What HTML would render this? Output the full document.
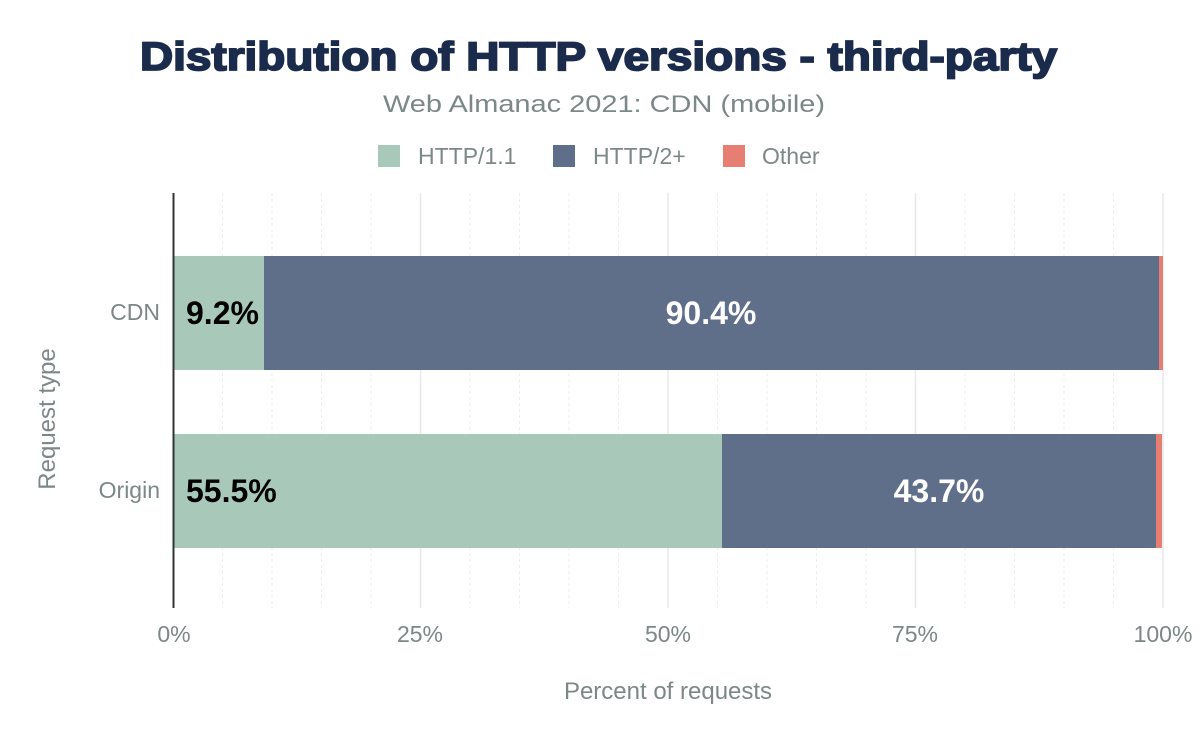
<!DOCTYPE html>
<html><head><meta charset="utf-8"><style>
body{margin:0;background:#fff;}
svg text{font-family:"Liberation Sans",Arial,sans-serif;}
</style></head><body>
<svg width="1200" height="742" viewBox="0 0 1200 742" xmlns="http://www.w3.org/2000/svg">
<rect width="1200" height="742" fill="#fff"/>
<text x="140" y="70" textLength="917" lengthAdjust="spacingAndGlyphs" font-size="40" font-weight="900" fill="#1a2b4b" stroke="#1a2b4b" stroke-width="1.8">Distribution of HTTP versions - third-party</text>
<text x="604" y="112" text-anchor="middle" font-size="24" textLength="442" lengthAdjust="spacingAndGlyphs" fill="#7c8787">Web Almanac 2021: CDN (mobile)</text>
<rect x="378" y="145" width="22" height="22" fill="#a8c9b9"/>
<text x="418" y="164" font-size="23" fill="#7c8787">HTTP/1.1</text>
<rect x="553" y="145" width="22" height="22" fill="#5f6f8a"/>
<text x="593" y="164" font-size="23" fill="#7c8787">HTTP/2+</text>
<rect x="723" y="145" width="22" height="22" fill="#e77e72"/>
<text x="762" y="164" font-size="23" fill="#7c8787">Other</text>
<g stroke="#eeeeee" stroke-width="1" stroke-dasharray="3,3">
<line x1="222.5" y1="193" x2="222.5" y2="608"/><line x1="272" y1="193" x2="272" y2="608"/><line x1="321.5" y1="193" x2="321.5" y2="608"/><line x1="371" y1="193" x2="371" y2="608"/>
<line x1="470" y1="193" x2="470" y2="608"/><line x1="519.5" y1="193" x2="519.5" y2="608"/><line x1="569" y1="193" x2="569" y2="608"/><line x1="618.5" y1="193" x2="618.5" y2="608"/>
<line x1="717.5" y1="193" x2="717.5" y2="608"/><line x1="767" y1="193" x2="767" y2="608"/><line x1="816.5" y1="193" x2="816.5" y2="608"/><line x1="866" y1="193" x2="866" y2="608"/>
<line x1="965" y1="193" x2="965" y2="608"/><line x1="1014.5" y1="193" x2="1014.5" y2="608"/><line x1="1064" y1="193" x2="1064" y2="608"/><line x1="1113.5" y1="193" x2="1113.5" y2="608"/>
</g>
<g stroke="#e8e8e8" stroke-width="1.5">
<line x1="420.5" y1="193" x2="420.5" y2="608"/><line x1="668" y1="193" x2="668" y2="608"/><line x1="915.5" y1="193" x2="915.5" y2="608"/><line x1="1163" y1="193" x2="1163" y2="608"/>
</g>
<rect x="173" y="256" width="91" height="114" fill="#a8c9b9"/>
<rect x="264" y="256" width="895" height="114" fill="#5f6f8a"/>
<rect x="1159" y="256" width="4" height="114" fill="#e77e72"/>
<rect x="173" y="434" width="549" height="114" fill="#a8c9b9"/>
<rect x="722" y="434" width="434" height="114" fill="#5f6f8a"/>
<rect x="1156" y="434" width="6" height="114" fill="#e77e72"/>
<line x1="173.5" y1="193" x2="173.5" y2="608" stroke="#333" stroke-width="2"/>
<text x="186" y="324" font-size="32" font-weight="bold" fill="#000">9.2%</text>
<text x="711" y="324" text-anchor="middle" font-size="32" font-weight="bold" fill="#fff">90.4%</text>
<text x="186" y="502" font-size="32" font-weight="bold" fill="#000">55.5%</text>
<text x="939" y="502" text-anchor="middle" font-size="32" font-weight="bold" fill="#fff">43.7%</text>
<text x="160" y="320" text-anchor="end" font-size="23" fill="#7c8787">CDN</text>
<text x="160" y="498" text-anchor="end" font-size="23" fill="#7c8787">Origin</text>
<text transform="translate(55,419) rotate(-90)" text-anchor="middle" font-size="24" fill="#7c8787">Request type</text>
<g font-size="23" fill="#7c8787" text-anchor="middle">
<text x="174" y="642">0%</text><text x="420" y="642">25%</text><text x="668" y="642">50%</text><text x="915" y="642">75%</text><text x="1163" y="642">100%</text>
</g>
<text x="668" y="699" text-anchor="middle" font-size="24" fill="#7c8787">Percent of requests</text>
</svg>
</body></html>
